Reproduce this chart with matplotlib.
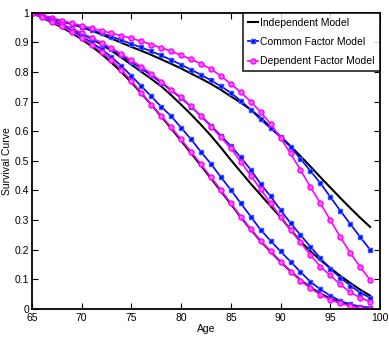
import matplotlib
matplotlib.use("Agg")
import matplotlib.pyplot as plt
import numpy as np

plt.rcParams['font.family'] = ['Liberation Sans Narrow', 'Liberation Sans', 'DejaVu Sans']

age = np.arange(65, 100)

# top group
ind_a = [1.000, 0.991, 0.981, 0.972, 0.962, 0.952, 0.940, 0.927, 0.913, 0.899,
         0.885, 0.872, 0.858, 0.843, 0.828, 0.812, 0.795, 0.778, 0.760, 0.740,
         0.718, 0.697, 0.673, 0.645, 0.614, 0.582, 0.550, 0.516, 0.481, 0.445,
         0.410, 0.375, 0.341, 0.308, 0.277]
com_a = [1.000, 0.991, 0.981, 0.972, 0.962, 0.952, 0.942, 0.931, 0.920, 0.908,
         0.895, 0.883, 0.870, 0.856, 0.841, 0.825, 0.808, 0.791, 0.772, 0.752,
         0.730, 0.703, 0.673, 0.640, 0.610, 0.580, 0.547, 0.507, 0.466, 0.425,
         0.378, 0.332, 0.287, 0.243, 0.200]
dep_a = [1.000, 0.992, 0.983, 0.974, 0.965, 0.957, 0.948, 0.940, 0.931, 0.923,
         0.914, 0.904, 0.893, 0.882, 0.870, 0.857, 0.843, 0.828, 0.810, 0.787,
         0.760, 0.732, 0.700, 0.665, 0.625, 0.578, 0.525, 0.470, 0.412, 0.357,
         0.300, 0.243, 0.190, 0.142, 0.098]

# middle group
ind_b = [1.000, 0.987, 0.974, 0.960, 0.945, 0.930, 0.912, 0.893, 0.872, 0.849,
         0.825, 0.801, 0.777, 0.752, 0.722, 0.690, 0.657, 0.622, 0.585, 0.545,
         0.503, 0.463, 0.423, 0.385, 0.347, 0.310, 0.268, 0.228, 0.195, 0.165,
         0.138, 0.112, 0.088, 0.065, 0.045]
com_b = [1.000, 0.988, 0.975, 0.961, 0.946, 0.931, 0.914, 0.896, 0.877, 0.856,
         0.834, 0.812, 0.789, 0.764, 0.738, 0.712, 0.683, 0.652, 0.619, 0.585,
         0.550, 0.512, 0.470, 0.422, 0.380, 0.334, 0.290, 0.250, 0.210, 0.172,
         0.135, 0.106, 0.079, 0.055, 0.038]
dep_b = [1.000, 0.988, 0.975, 0.961, 0.947, 0.932, 0.916, 0.899, 0.881, 0.861,
         0.840, 0.818, 0.795, 0.768, 0.740, 0.715, 0.684, 0.650, 0.616, 0.580,
         0.542, 0.497, 0.450, 0.404, 0.357, 0.312, 0.267, 0.225, 0.182, 0.143,
         0.113, 0.083, 0.056, 0.038, 0.025]

# bottom group
ind_c = [1.000, 0.984, 0.968, 0.951, 0.932, 0.911, 0.887, 0.861, 0.832, 0.800,
         0.765, 0.728, 0.690, 0.650, 0.610, 0.568, 0.526, 0.484, 0.441, 0.398,
         0.354, 0.310, 0.268, 0.229, 0.193, 0.159, 0.127, 0.098, 0.073, 0.052,
         0.035, 0.022, 0.012, 0.006, 0.003]
com_c = [1.000, 0.986, 0.972, 0.957, 0.940, 0.921, 0.900, 0.877, 0.851, 0.820,
         0.787, 0.752, 0.718, 0.683, 0.651, 0.612, 0.573, 0.530, 0.490, 0.445,
         0.402, 0.357, 0.312, 0.267, 0.230, 0.194, 0.160, 0.125, 0.092, 0.066,
         0.045, 0.027, 0.016, 0.008, 0.004]
dep_c = [1.000, 0.985, 0.970, 0.954, 0.936, 0.915, 0.893, 0.868, 0.842, 0.807,
         0.770, 0.730, 0.690, 0.652, 0.614, 0.573, 0.531, 0.489, 0.445, 0.402,
         0.357, 0.312, 0.269, 0.230, 0.194, 0.160, 0.126, 0.096, 0.070, 0.048,
         0.031, 0.019, 0.010, 0.004, 0.001]

fig = plt.figure(figsize=(3.89, 3.38), dpi=100)
ax = fig.add_axes([0.082, 0.086, 0.895, 0.876])

mag = '#ff00ff'
for ind, com, dep, first in [(ind_a, com_a, dep_a, True),
                             (ind_b, com_b, dep_b, False),
                             (ind_c, com_c, dep_c, False)]:
    ax.plot(age, ind, color='black', lw=1.5,
            label='Independent Model' if first else None)
    ax.plot(age, com, color='#0000ff', lw=1.2, marker='s', ms=3.2,
            mfc='#0000ff', mec='#3355ff', label='Common Factor Model' if first else None)
    ax.plot(age, dep, color=mag, lw=1.2, marker='o', ms=3.6,
            mfc='#ff66ff', mec=mag, label='Dependent Factor Model' if first else None)

ax.set_xlim(65, 100)
ax.set_ylim(0, 1)
ax.set_xticks(range(65, 101, 5))
ax.set_yticks(np.arange(0, 1.01, 0.1))
ax.set_yticklabels(['0', '0.1', '0.2', '0.3', '0.4', '0.5', '0.6', '0.7', '0.8', '0.9', '1'])
ax.tick_params(direction='in', top=True, right=True, labelsize=7.5, length=4, pad=2)
ax.tick_params(axis='x', pad=3)
for s in ax.spines.values():
    s.set_linewidth(1.3)

ax.set_xlabel('Age', fontsize=7.5, labelpad=1)
ax.set_ylabel('Survival Curve', fontsize=7.5, labelpad=2)

leg = ax.legend(loc='upper right', fontsize=7.5, handlelength=1.0, handletextpad=0.2,
                borderaxespad=0.0, borderpad=0.5, labelspacing=0.87, fancybox=False)
leg.get_frame().set_edgecolor('black')
leg.get_frame().set_linewidth(1.3)

fig.savefig('out.png', dpi=100)
